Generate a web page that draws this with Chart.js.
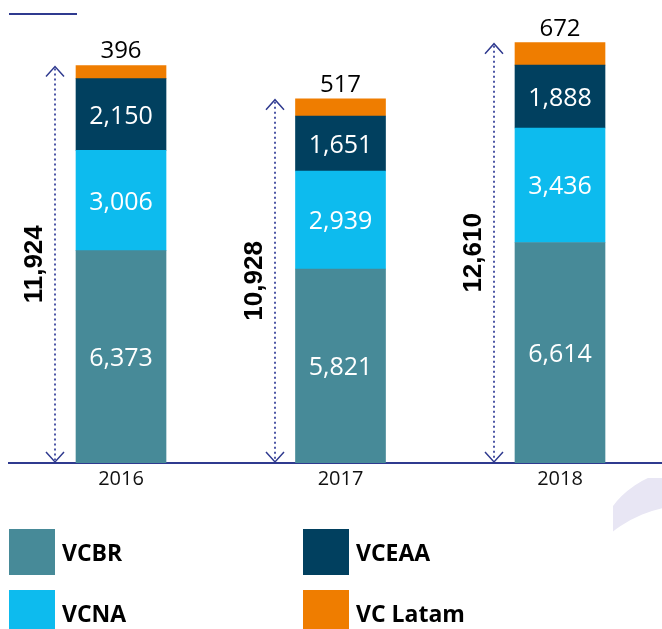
<!DOCTYPE html>
<html>
<head>
<meta charset="utf-8">
<script src="https://cdn.jsdelivr.net/npm/chart.js@4.4.1/dist/chart.umd.min.js"></script>
<style>
  html, body { margin: 0; padding: 0; background: #fff; }
  canvas { display: block; }
</style>
</head>
<body>
<canvas id="chart" width="662" height="629"></canvas>
<script>
const years = ['2016', '2017', '2018'];
const vcbr = [6373, 5821, 6614];
const vcna = [3006, 2939, 3436];
const vceaa = [2150, 1651, 1888];
const vcLatam = [396, 517, 672];
const totals = [11924, 10928, 12610];
const seriesNames = ['VCBR', 'VCNA', 'VCEAA', 'VC Latam'];

const COLORS = {
  vcbr: '#478a98', vcna: '#0dbbee', vceaa: '#01405f', latam: '#ef7d00',
  navy: '#2f3a8f', dots: '#4d57a6', deco: '#e8e6f4',
};
const fmt = v => v.toLocaleString('en-US');
const toPoints = arr => arr.map((v, i) => ({ x: i, y: v }));

// short rule top left + lavender crescent bottom right
const decorations = {
  id: 'decorations',
  beforeDraw(chart) {
    const { ctx } = chart;
    ctx.save();
    ctx.strokeStyle = COLORS.navy; ctx.lineWidth = 2;
    ctx.beginPath(); ctx.moveTo(9, 14); ctx.lineTo(77, 14); ctx.stroke();
    ctx.beginPath(); ctx.rect(613, 478, 49, 80); ctx.clip();
    ctx.beginPath();
    ctx.arc(685, 560, 90, 0, Math.PI * 2);
    ctx.arc(690, 630, 125, 0, Math.PI * 2, true);
    ctx.fillStyle = COLORS.deco; ctx.fill('evenodd');
    ctx.restore();
  },
};

// values inside each segment, last series on top of the bar
const segmentLabels = {
  id: 'segmentLabels',
  afterDatasetsDraw(chart) {
    const { ctx } = chart;
    const n = chart.data.datasets.length;
    ctx.save();
    ctx.textAlign = 'center'; ctx.textBaseline = 'middle';
    chart.data.datasets.forEach((ds, di) => {
      chart.getDatasetMeta(di).data.forEach((bar, i) => {
        const v = ds.data[i].y;
        if (di === n - 1) {
          ctx.font = '24px "Open Sans"'; ctx.fillStyle = '#000';
          ctx.fillText(fmt(v), bar.x, bar.y - 14);
        } else {
          ctx.font = '25px "Open Sans"'; ctx.fillStyle = '#fff';
          ctx.fillText(fmt(v), bar.x, (bar.y + bar.base) / 2 + 2);
        }
      });
    });
    ctx.restore();
  },
};

// dotted double arrow + rotated total left of each bar
const totalArrows = {
  id: 'totalArrows',
  afterDatasetsDraw(chart) {
    const { ctx, scales: { x, y } } = chart;
    totals.forEach((t, i) => {
      const ax = Math.round(x.getPixelForValue(i)) - 66;
      const top = y.getPixelForValue(t) + 1, bottom = y.getPixelForValue(0) - 1;
      ctx.save();
      ctx.strokeStyle = COLORS.dots; ctx.lineWidth = 2; ctx.setLineDash([2, 3]);
      ctx.beginPath(); ctx.moveTo(ax, top + 2); ctx.lineTo(ax, bottom - 2); ctx.stroke();
      ctx.setLineDash([]); ctx.lineWidth = 1.5; ctx.strokeStyle = COLORS.navy;
      ctx.beginPath();
      ctx.moveTo(ax - 9, top + 10); ctx.lineTo(ax, top); ctx.lineTo(ax + 9, top + 10);
      ctx.moveTo(ax - 9, bottom - 10); ctx.lineTo(ax, bottom); ctx.lineTo(ax + 9, bottom - 10);
      ctx.stroke();
      ctx.translate(ax - 20, (top + bottom) / 2);
      ctx.rotate(-Math.PI / 2);
      ctx.font = 'bold 26px "Liberation Sans"'; ctx.fillStyle = '#000';
      ctx.textAlign = 'center'; ctx.textBaseline = 'middle';
      ctx.fillText(fmt(t), 0, 0);
      ctx.restore();
    });
  },
};

// 2x2 legend under the axis
const gridLegend = {
  id: 'gridLegend',
  afterDraw(chart) {
    const { ctx } = chart;
    ctx.save();
    ctx.font = 'bold 23px "Open Sans"'; ctx.textBaseline = 'middle'; ctx.textAlign = 'left';
    chart.data.datasets.forEach((ds, i) => {
      const left = [9, 303][Math.floor(i / 2)];
      const top = [529, 590][i % 2];
      ctx.fillStyle = ds.backgroundColor; ctx.fillRect(left, top, 46, 46);
      ctx.fillStyle = '#000'; ctx.fillText(ds.label, left + 53, top + 25);
    });
    ctx.restore();
  },
};

new Chart(document.getElementById('chart'), {
  type: 'bar',
  data: {
    datasets: [
      { label: seriesNames[0], data: toPoints(vcbr), backgroundColor: COLORS.vcbr },
      { label: seriesNames[1], data: toPoints(vcna), backgroundColor: COLORS.vcna },
      { label: seriesNames[2], data: toPoints(vceaa), backgroundColor: COLORS.vceaa },
      { label: seriesNames[3], data: toPoints(vcLatam), backgroundColor: COLORS.latam },
    ],
  },
  options: {
    responsive: false,
    animation: false,
    devicePixelRatio: 1,
    layout: { padding: { left: 9, top: 13, right: 0, bottom: 0 } },
    plugins: { legend: { display: false }, tooltip: { enabled: false } },
    datasets: { bar: { barThickness: 90 } },
    scales: {
      x: {
        type: 'linear', stacked: true, offset: false, min: -0.5103, max: 2.4647,
        grid: { display: false, drawTicks: false },
        border: { color: COLORS.navy, width: 2 },
        afterBuildTicks: s => { s.ticks = years.map((_, i) => ({ value: i })); },
        afterFit: s => { s.height = 166; },
        ticks: {
          callback: v => years[v], color: '#111', padding: 4, maxRotation: 0, autoSkip: false,
          font: { family: 'Open Sans', size: 20 },
        },
      },
      y: { display: false, stacked: true, min: 0, max: 13500 },
    },
  },
  plugins: [decorations, segmentLabels, totalArrows, gridLegend],
});
</script>
</body>
</html>
